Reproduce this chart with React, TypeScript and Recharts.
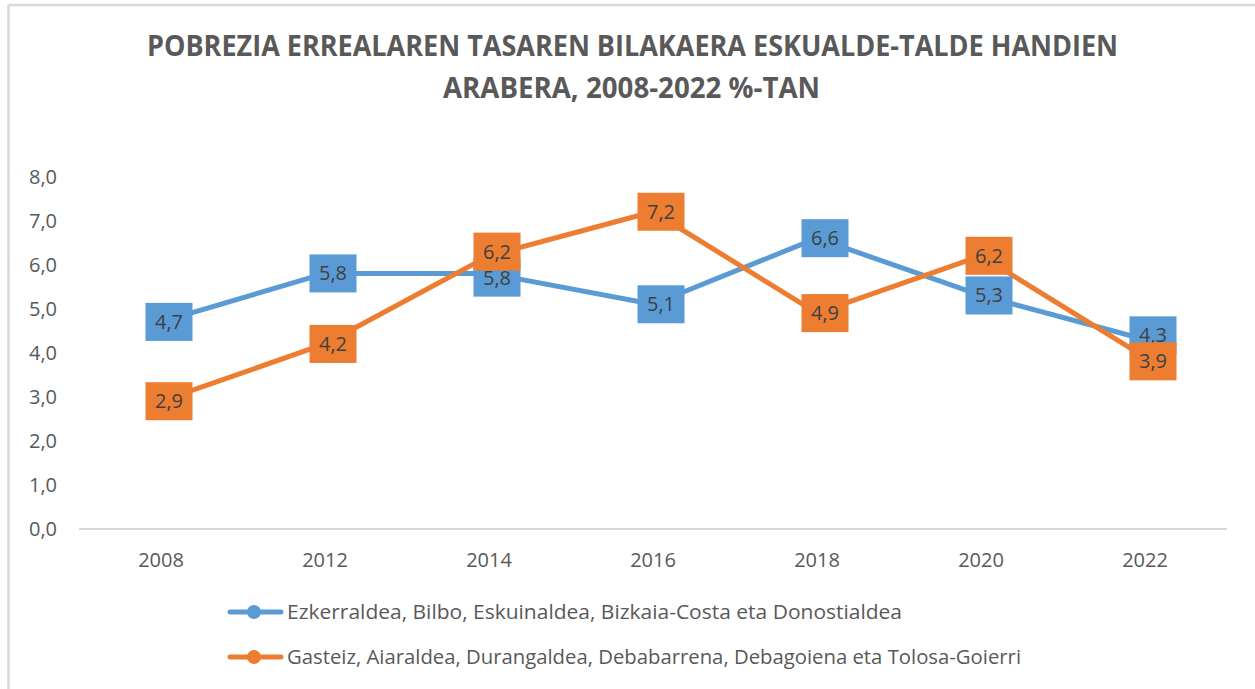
import React from 'react';
import { LineChart, Line, XAxis, YAxis, LabelList, Legend } from 'recharts';

const years = ['2008', '2012', '2014', '2016', '2018', '2020', '2022'];
const westValues = [4.7, 5.8, 5.8, 5.1, 6.6, 5.3, 4.3];
const eastValues = [2.9, 4.2, 6.2, 7.2, 4.9, 6.2, 3.9];
const yTicks = [0, 1, 2, 3, 4, 5, 6, 7, 8];
const seriesNames = [
  'Ezkerraldea, Bilbo, Eskuinaldea, Bizkaia-Costa eta Donostialdea',
  'Gasteiz, Aiaraldea, Durangaldea, Debabarrena, Debagoiena eta Tolosa-Goierri',
];
const titleLines = [
  'POBREZIA ERREALAREN TASAREN BILAKAERA ESKUALDE-TALDE HANDIEN',
  'ARABERA, 2008-2022 %-TAN',
];

const BLUE = '#5B9BD5';
const ORANGE = '#ED7D31';
const GRAY = '#595959';
const FONT = '"Open Sans", sans-serif';

const CHART_W = 1255;
const CHART_H = 689;
const M_TOP = 176.5;
const M_BOTTOM = 20;
const M_RIGHT = 28;
const XAXIS_H = 40;
const LEGEND_H = 100;
const Y_MIN = 0;
const Y_MAX = 8;
const PX_PER_UNIT = (CHART_H - M_TOP - M_BOTTOM - XAXIS_H - LEGEND_H) / (Y_MAX - Y_MIN);
const MIN_LABEL_GAP = 26;

const data = years.map((year, i) => ({ year, west: westValues[i], east: eastValues[i] }));

const fmt = (v: number) => Number(v).toFixed(1).replace('.', ',');

// push apart the two labels of one category when they would sit too close
const labelShift = (index: number, isWest: boolean) => {
  const w = westValues[index];
  const e = eastValues[index];
  const gap = Math.abs(w - e) * PX_PER_UNIT;
  if (gap >= MIN_LABEL_GAP) return 0;
  const s = (MIN_LABEL_GAP - gap) / 2;
  const mine = isWest ? w : e;
  const other = isWest ? e : w;
  return mine >= other ? -s : s;
};

const makeLabel = (color: string, isWest: boolean) => (props: any) => {
  const { x, y, value, index } = props;
  if (x == null || y == null) return null;
  const cx = Number(x) + 8;
  const cy = Number(y) + labelShift(Number(index), isWest);
  return (
    <g>
      <rect x={cx - 23.5} y={cy - 19} width={47} height={38} fill={color} />
      <text x={cx} y={cy + 7} textAnchor="middle" fill="#404040" fontSize={20} fontFamily={FONT}>
        {fmt(value)}
      </text>
    </g>
  );
};

const legendWidths = [615, 734];

const renderLegend = () => (
  <svg width={CHART_W} height={LEGEND_H} style={{ display: 'block' }}>
    {seriesNames.map((name, i) => {
      const color = i === 0 ? BLUE : ORANGE;
      const y = 22 + i * 45;
      return (
        <g key={name}>
          <line x1={230} x2={281} y1={y} y2={y} stroke={color} strokeWidth={5} strokeLinecap="round" />
          <circle cx={254} cy={y} r={7} fill={color} />
          <text
            x={287}
            y={y + 7}
            fill={GRAY}
            fontSize={20}
            fontFamily={FONT}
            textLength={legendWidths[i]}
            lengthAdjust="spacingAndGlyphs"
          >
            {name}
          </text>
        </g>
      );
    })}
  </svg>
);

export default function App() {
  return (
    <div style={{ position: 'absolute', left: 0, top: 0, width: CHART_W, height: CHART_H, background: '#fff' }}>
      <LineChart
        width={CHART_W}
        height={CHART_H}
        data={data}
        margin={{ top: M_TOP, right: M_RIGHT, bottom: M_BOTTOM, left: 0 }}
      >
        <XAxis
          dataKey="year"
          padding={{ left: 82, right: 82 }}
          axisLine={{ stroke: '#d9d9d9', strokeWidth: 2 }}
          tickLine={false}
          tickSize={0}
          tickMargin={24}
          interval={0}
          height={XAXIS_H}
          tick={{ fill: GRAY, fontSize: 20, fontFamily: FONT }}
        />
        <YAxis
          domain={[Y_MIN, Y_MAX]}
          ticks={yTicks}
          interval={0}
          width={79}
          axisLine={false}
          tickLine={false}
          tickSize={0}
          tickMargin={22}
          tickFormatter={fmt}
          tick={{ fill: GRAY, fontSize: 20, fontFamily: FONT }}
        />
        <Legend
          content={renderLegend}
          wrapperStyle={{ position: 'absolute', left: 0, top: 590, width: CHART_W, height: LEGEND_H }}
        />
        <Line
          dataKey="west"
          name={seriesNames[0]}
          stroke={BLUE}
          strokeWidth={5}
          dot={false}
          activeDot={false}
          isAnimationActive={false}
          strokeLinejoin="round"
        />
        <Line
          dataKey="east"
          name={seriesNames[1]}
          stroke={ORANGE}
          strokeWidth={5}
          dot={false}
          activeDot={false}
          isAnimationActive={false}
          strokeLinejoin="round"
        />
        <Line
          dataKey="west"
          stroke="none"
          dot={false}
          activeDot={false}
          legendType="none"
          isAnimationActive={false}
        >
          <LabelList dataKey="west" content={makeLabel(BLUE, true)} />
        </Line>
        <Line
          dataKey="east"
          stroke="none"
          dot={false}
          activeDot={false}
          legendType="none"
          isAnimationActive={false}
        >
          <LabelList dataKey="east" content={makeLabel(ORANGE, false)} />
        </Line>
      </LineChart>
      <svg
        width={CHART_W}
        height={CHART_H}
        style={{ position: 'absolute', left: 0, top: 0, pointerEvents: 'none' }}
      >
        <line x1={8.5} x2={CHART_W} y1={5} y2={5} stroke="#d9d9d9" strokeWidth={2.5} />
        <line x1={8.5} x2={8.5} y1={5} y2={CHART_H} stroke="#d9d9d9" strokeWidth={2.5} />
        <text
          x={632.5}
          y={56}
          textAnchor="middle"
          fill={GRAY}
          fontSize={29}
          fontWeight={700}
          fontFamily={FONT}
          textLength={971}
          lengthAdjust="spacingAndGlyphs"
        >
          {titleLines[0]}
        </text>
        <text
          x={631.5}
          y={98}
          textAnchor="middle"
          fill={GRAY}
          fontSize={29}
          fontWeight={700}
          fontFamily={FONT}
          textLength={377}
          lengthAdjust="spacingAndGlyphs"
        >
          {titleLines[1]}
        </text>
      </svg>
    </div>
  );
}
